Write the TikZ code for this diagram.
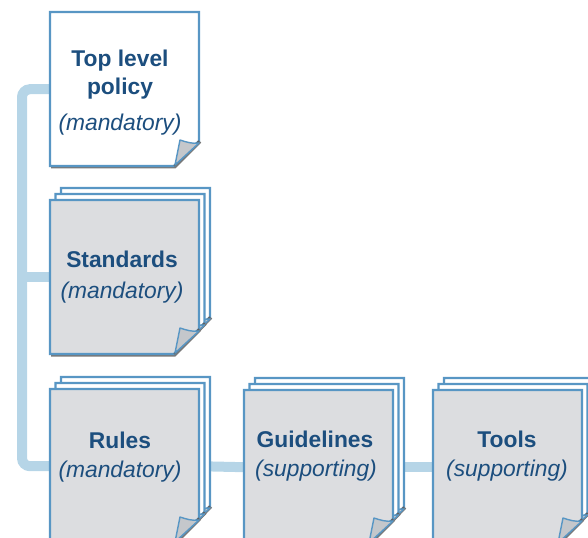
\documentclass[tikz,border=0pt]{standalone}
\usepackage{fontspec}
\setmainfont{Liberation Sans}
\usetikzlibrary{backgrounds}
\definecolor{pageblue}{RGB}{88,150,196}
\definecolor{fillgray}{RGB}{220,221,224}
\definecolor{connblue}{RGB}{182,213,231}
\definecolor{txtblue}{RGB}{28,78,126}
\definecolor{flapgray}{RGB}{196,199,203}
\definecolor{shadowgray}{RGB}{120,120,120}
\def\pw{149}
\def\ph{154}
\def\pc{25}
\tikzset{
  pageline/.style={draw=pageblue, line width=2.4bp, line join=miter},
  shadowline/.style={draw=shadowgray, line width=2bp},
  crease/.style={draw=shadowgray!80!black, line width=1.6bp},
  flap/.style={draw=pageblue, line width=1.4bp, fill=flapgray, line join=round},
  pagebox/.style={draw=none, inner sep=0pt, anchor=north west, minimum width=\pw bp, minimum height=\ph bp},
  ttl/.style={text=txtblue, font=\fontsize{22.8bp}{28bp}\selectfont\bfseries, anchor=base, inner sep=0pt},
  sub/.style={text=txtblue, font=\fontsize{22.8bp}{28bp}\selectfont\itshape, anchor=base, inner sep=0pt},
  conn/.style={draw=connblue, line width=10bp, rounded corners=8bp}
}
% #1 x, #2 y (top-left, image coords), #3 fill
\newcommand\pageshape[3]{%
  \begin{scope}[shift={(#1,#2)}]
    \draw[shadowline] (1,\ph+1.5) -- (\pw-\pc+1,\ph+1.5) -- (\pw+1.5,\ph-\pc+1);
    \filldraw[pageline, fill=#3] (0,0) -- (\pw,0) -- (\pw,\ph-\pc) -- (\pw-\pc,\ph) -- (0,\ph) -- cycle;
    \draw[crease] (\pw,\ph-\pc) -- (\pw-\pc,\ph);
    \filldraw[flap] (\pw,\ph-\pc+2) .. controls (\pw-7,\ph-\pc+3) and (\pw-13,\ph-\pc+1) .. (\pw-19,\ph-\pc-1)
       -- (\pw-\pc+1,\ph-1) -- cycle;
  \end{scope}}
% stacked pages: #1 x, #2 y of front page, #3 name
\newcommand\pagestack[3]{%
  \pageshape{#1+11}{#2-12}{white}
  \pageshape{#1+5.5}{#2-6}{white}
  \pageshape{#1}{#2}{fillgray}
  \node[pagebox] (#3) at (#1,#2) {};}
\begin{document}
\begin{tikzpicture}[x=1bp,y=-1bp]
  \useasboundingbox (0,0) rectangle (588,538);
  \clip (0,0) rectangle (588,538);
  \coordinate (spine) at (22,0);

  % pages
  \pageshape{50}{12}{white}
  \node[pagebox] (top) at (50,12) {};
  \pagestack{50}{200}{std}
  \pagestack{50}{389}{rules}
  \pagestack{244}{390}{guide}
  \pagestack{433}{390}{tools}

  % texts
  \node[ttl] (topA) at (120,67) {Top level};
  \node[ttl] (topB) at (120,95) {policy};
  \node[sub] (topC) at (120,131) {(mandatory)};
  \node[ttl] (stdA) at (122,267) {Standards};
  \node[sub] (stdB) at (122,298) {(mandatory)};
  \node[ttl] (rulA) at (120,448) {Rules};
  \node[sub] (rulB) at (120,477) {(mandatory)};
  \node[ttl] (gdlA) at (315,447) {Guidelines};
  \node[sub] (gdlB) at (316,476) {(supporting)};
  \node[ttl] (tolA) at (507,447) {Tools};
  \node[sub] (tolB) at (507,476) {(supporting)};

  % connectors
  \begin{pgfonlayer}{background}
    \draw[conn] (top.west) -| (spine |- rules.west) -- (rules.west);
    \draw[conn] (spine |- std.west) -- (std.west);
    \draw[conn] (rules.east) -- (guide.west);
    \draw[conn] (guide.east) -- (tools.west);
  \end{pgfonlayer}
\end{tikzpicture}
\end{document}
